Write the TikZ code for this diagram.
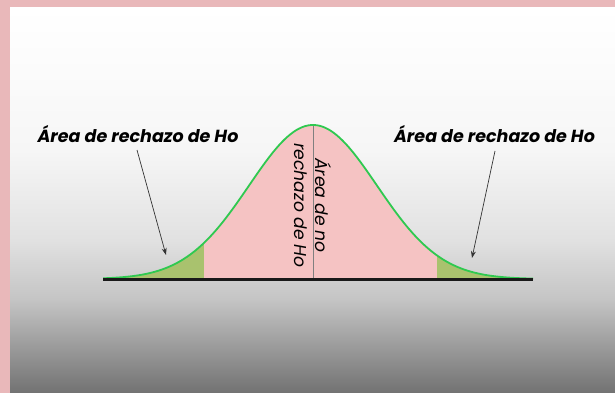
\documentclass[tikz,border=0pt]{standalone}
\usepackage{fontspec}
\newfontfamily\pop{Poppins}
\usetikzlibrary{arrows.meta}
\definecolor{pinkbg}{HTML}{E9B8BA}
\definecolor{g1}{HTML}{F6F6F6}
\definecolor{g2}{HTML}{E1E1E1}
\definecolor{g3}{HTML}{C4C4C4}
\definecolor{g4}{HTML}{727272}
\definecolor{curvegreen}{HTML}{2FC950}
\definecolor{tailfill}{HTML}{A9C26E}
\definecolor{midfill}{HTML}{F5C3C3}
\definecolor{arrowgray}{HTML}{333333}
\tikzset{
  lbl/.style={font=\pop\bfseries\itshape\fontsize{17.5}{19}\selectfont, text=black, inner sep=0pt},
  midlbl/.style={font=\pop\itshape\fontsize{17.2}{21}\selectfont, text=black, inner sep=0pt, align=center, rotate=-90},
  pointer/.style={draw=arrowgray, line width=0.7pt, -{Stealth[length=7pt,width=5pt]}},
}
\begin{document}
\begin{tikzpicture}[x=1pt,y=-1pt]
\useasboundingbox (0,0) rectangle (615,393);
\fill[pinkbg] (0,0) rectangle (615,393);
\shade[top color=white, bottom color=g1] (10,8) rectangle (615,150.5);
\shade[top color=g1, bottom color=g2] (10,150) rectangle (615,240.5);
\shade[top color=g2, bottom color=g3] (10,240) rectangle (615,300.5);
\shade[top color=g3, bottom color=g4] (10,300) rectangle (615,393);
% fills
\fill[tailfill] (103,279) -- plot[domain=-3.28:-1.703, samples=40] ({313+64*\x},{279-154*exp(-0.5*\x*\x)}) -- (204,279) -- cycle;
\fill[midfill] (204,279) -- plot[domain=-1.703:1.9375, samples=80] ({313+64*\x},{279-154*exp(-0.5*\x*\x)}) -- (437,279) -- cycle;
\fill[tailfill] (437,279) -- plot[domain=1.9375:3.44, samples=40] ({313+64*\x},{279-154*exp(-0.5*\x*\x)}) -- (533,279) -- cycle;
% curve
\draw[curvegreen, line width=1.8pt] plot[domain=-3.28:3.44, samples=150, smooth] ({313+64*\x},{279-154*exp(-0.5*\x*\x)});
% centre line
\coordinate (peak) at (313,125.5);
\coordinate (mid) at (313,279);
\draw[gray, line width=0.6pt] (peak) -- (mid);
% axis
\coordinate (axL) at (103,279.5);
\coordinate (axR) at (533,279.5);
\draw[black!90, line width=3pt] (axL) -- (axR);
% labels
\node[lbl] (lL) at (138,134) {Área de rechazo de Ho};
\node[lbl] (lR) at (494.5,134) {Área de rechazo de Ho};
\node[midlbl] (mlab) at (312.5,205.5) {Área de no\\rechazo de Ho};
% arrows
\coordinate (aLs) at (137,150);
\coordinate (aLe) at (166,255);
\coordinate (aRs) at (495,151);
\coordinate (aRe) at (472,258);
\draw[pointer] (aLs) -- (aLe);
\draw[pointer] (aRs) -- (aRe);
\end{tikzpicture}
\end{document}
